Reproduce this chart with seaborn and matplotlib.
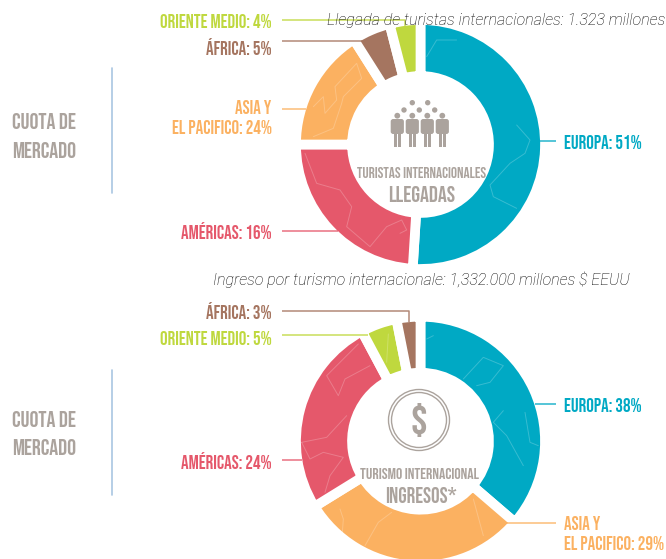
import matplotlib
matplotlib.use("Agg")
import matplotlib.pyplot as plt
from matplotlib.patches import Circle, FancyBboxPatch, Rectangle
import seaborn as sns

sns.set_theme(style="white")

regions_top = ["Europa", "Américas", "Asia", "África", "Oriente"]
shares_top = [51, 24, 16, 5, 4]  # slice sizes as drawn in the picture
regions_bot = ["Europa", "Asia", "Américas", "Oriente", "África"]
shares_bot = [36.3, 29.9, 26, 4.7, 3.1]  # slice sizes as drawn in the picture
palette = dict(zip(["Europa", "Américas", "Asia", "África", "Oriente"],
                   sns.color_palette(["#00a9c4", "#e5586b", "#fbb161", "#a57560", "#bfd83e"])))

title_top = "Llegada de turistas internacionales: 1.323 millones"
title_bot = "Ingreso por turismo internacionale: 1,332.000 millones $ EEUU"

W, H = 666, 559
fig = plt.figure(figsize=(W / 100, H / 100), dpi=100, facecolor="white")


def donut(cx, cy, names, vals):
    R = 124.5
    ax = fig.add_axes([(cx - R) / W, 1 - (cy + R) / H, 2 * R / W, 2 * R / H])
    ax.pie(vals, colors=[palette[n] for n in names], startangle=90, counterclock=False,
           radius=1, wedgeprops=dict(width=0.45, edgecolor="white", linewidth=7))
    ax.set_xlim(-1, 1)
    ax.set_ylim(-1, 1)
    ax.set_axis_off()


donut(420.5, 144.5, regions_top, shares_top)
donut(420.5, 441.2, regions_bot, shares_bot)

ov = fig.add_axes([0, 0, 1, 1])
ov.set_xlim(0, W)
ov.set_ylim(H, 0)
ov.set_axis_off()
ov.patch.set_alpha(0)

GREY = "#aba39d"
NARROW = ["Bebas Neue", "Liberation Sans", "DejaVu Sans"]


def lab(x, y, s, color, ha="right", size=13.6):
    ov.text(x, y, s, color=color, ha=ha, va="center", family=NARROW, fontsize=size)


def seg(xs, ys, color):
    ov.plot(xs, ys, color=color, lw=1.1, solid_capstyle="butt", alpha=0.85)


def coast(y0, pts):
    """Faint map outline decoration on the rings."""
    ov.plot([290 + p[0] / 3 for p in pts], [y0 + p[1] / 3 for p in pts],
            color="white", lw=0.7, alpha=0.22, solid_joinstyle="round")


for pts in [
    [(45, 460), (80, 550), (150, 570), (185, 620), (170, 680), (240, 740), (290, 680), (335, 660), (350, 690), (330, 700)],
    [(70, 320), (100, 290), (105, 340), (140, 300), (135, 260), (200, 190), (215, 235), (160, 290), (155, 310), (130, 385), (70, 410)],
    [(680, 375), (720, 420), (705, 460), (660, 490), (600, 555), (610, 590), (680, 625)],
    [(410, 170), (440, 120), (500, 120)],
]:
    coast(0, pts)
for pts in [
    [(205, 195), (110, 290), (145, 350), (165, 300), (240, 260)],
    [(35, 490), (110, 475), (170, 410)],
    [(35, 490), (60, 540), (100, 520), (160, 535), (120, 590), (105, 640)],
    [(150, 690), (160, 720), (155, 790)],
    [(305, 700), (265, 730), (225, 800)],
    [(550, 660), (580, 770)],
    [(410, 180), (430, 170)],
    [(520, 300), (580, 235), (640, 260), (600, 310), (560, 320)],
    [(640, 395), (610, 430), (650, 470), (700, 560)],
    [(705, 400), (720, 490), (745, 500)],
    [(295, 165), (290, 250)],
]:
    coast(279, pts)

c = {k: matplotlib.colors.to_hex(v) for k, v in palette.items()}
LX, RX, LL, RL = 271.5, 564, 282.3, 556

# top donut labels
seg([LL, 405, 405], [20, 20, 27], c["Oriente"])
lab(LX, 20.7, "ORIENTE MEDIO: 4%", c["Oriente"])
seg([LL, 362], [41, 41], c["África"])
lab(LX, 46.7, "ÁFRICA: 5%", c["África"])
seg([LL, 306], [108.7, 108.7], c["Asia"])
lab(LX, 107.3, "ASIA Y", c["Asia"])
lab(LX, 127.3, "EL PACIFICO: 24%", c["Asia"])
seg([LL, 338], [231, 231], c["Américas"])
lab(LX, 230.7, "AMÉRICAS: 16%", c["Américas"])
seg([538, RL], [141, 141], c["Europa"])
lab(RX, 142, "EUROPA: 51%", c["Europa"], ha="left")

# bottom donut labels
seg([LL, 409.3, 409.3], [311.3, 311.3, 322], c["África"])
lab(LX, 311, "ÁFRICA: 3%", c["África"])
seg([LL, 367.7], [335, 335], c["Oriente"])
lab(LX, 337.7, "ORIENTE MEDIO: 5%", c["Oriente"])
seg([LL, 302], [460, 460], c["Américas"])
lab(LX, 460.3, "AMÉRICAS: 24%", c["Américas"])
seg([535, RL], [404.3, 404.3], c["Europa"])
lab(RX, 404.5, "EUROPA: 38%", c["Europa"], ha="left")
seg([506, RL], [523.3, 523.3], c["Asia"])
lab(RX, 523.3, "ASIA Y", c["Asia"], ha="left")
lab(RX, 543.3, "EL PACIFICO: 29%", c["Asia"], ha="left")

# titles
ov.text(665, 21, title_top, family="Roboto", style="italic", weight="light", fontsize=11.6,
        color="black", ha="right", va="center")
ov.text(421, 280, title_bot, family="Roboto", style="italic", weight="light", fontsize=11.5,
        color="black", ha="center", va="center")

# left side
for y1, y2, l0, l1 in [(121, 150, 68, 193), (419, 447, 370, 495)]:
    lab(44, y1, "CUOTA DE", GREY, ha="center", size=16)
    lab(44, y2, "MERCADO", GREY, ha="center", size=16)
    ov.plot([112, 112], [l0, l1], color="#a9c6e2", lw=1.2)

# centre captions
lab(421.3, 173, "TURISTAS INTERNACIONALES", GREY, ha="center", size=11)
lab(421.5, 194.3, "LLEGADAS", GREY, ha="center", size=16)
lab(420, 473.3, "TURISMO INTERNACIONAL", GREY, ha="center", size=11.3)
lab(421.5, 495, "INGRESOS*", GREY, ha="center", size=15.5)

# people icon
for x, y in [(412.3, 102.7), (427.7, 102.7), (404, 110), (419.3, 110), (434.7, 110)]:
    ov.add_patch(Circle((x, y), 2.7, color=GREY, lw=0))
for x in [397.3, 412.3, 427.3, 442.3]:
    ov.add_patch(Circle((x, 115.7), 2.9, color=GREY, lw=0))
    ov.add_patch(FancyBboxPatch((x - 6.6, 119), 13.2, 15, boxstyle="round,pad=0,rounding_size=2.5",
                                color=GREY, lw=0))
    ov.add_patch(Rectangle((x - 3.8, 130), 3.6, 17, color=GREY, lw=0))
    ov.add_patch(Rectangle((x + 0.2, 130), 3.6, 17, color=GREY, lw=0))

# dollar icon
ov.add_patch(Circle((419, 420), 30.5, fill=False, ec=GREY, lw=1))
ov.add_patch(Circle((419, 420), 27.5, fill=False, ec=GREY, lw=1))
ov.text(419, 420, "$", family=NARROW, fontsize=30, color=GREY, ha="center", va="center")

fig.savefig("out.png", dpi=100, facecolor="white")
